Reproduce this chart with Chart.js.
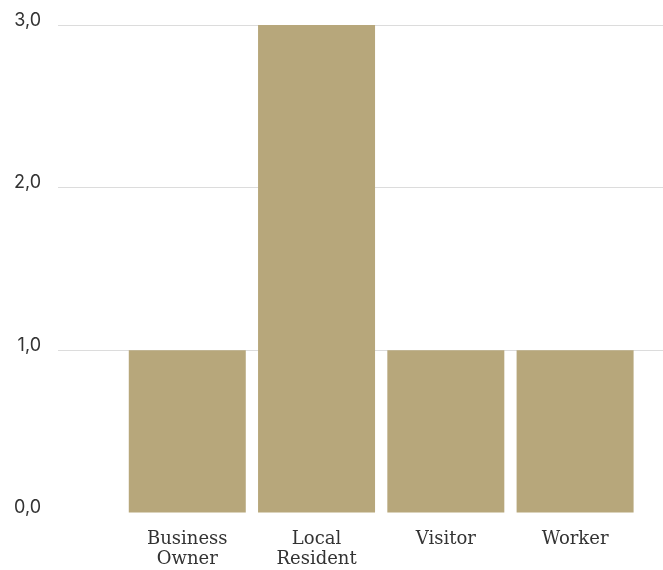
<!DOCTYPE html>
<html>
<head>
<meta charset="utf-8">
<script src="https://cdn.jsdelivr.net/npm/chart.js@4/dist/chart.umd.min.js"></script>
<style>
  html, body { margin: 0; padding: 0; background: #fff; }
  #wrap { width: 663px; height: 570px; position: relative; }
</style>
</head>
<body>
<div id="wrap"><canvas id="myBarChart"></canvas></div>
<script>
// data
var categories = [["Business", "Owner"], ["Local", "Resident"], ["Visitor"], ["Worker"]];
var values = [1, 3, 1, 1];
var yTicks = [0, 1, 2, 3];

var barColor = '#b7a77b';

var ctx = document.getElementById("myBarChart");
var myBarChart = new Chart(ctx, {
    type: 'bar',
    data: {
        datasets: [{
            label: 'count',
            data: values.map(function (v, i) { return { x: i, y: v }; }),
            backgroundColor: barColor,
            borderWidth: 0,
            barPercentage: 1,
            categoryPercentage: 0.905
        }]
    },
    options: {
        responsive: true,
        maintainAspectRatio: false,
        animation: false,
        layout: { padding: { top: 0, right: 0, left: 0, bottom: 0 } },
        plugins: {
            legend: { display: false },
            tooltip: { enabled: false }
        },
        scales: {
            x: {
                type: 'linear',
                offset: false,
                min: -1,
                max: 3.68,
                grid: { display: false },
                border: { display: false },
                afterBuildTicks: function (scale) {
                    scale.ticks = categories.map(function (c, i) { return { value: i }; });
                },
                afterFit: function (scale) { scale.height = 57; },
                ticks: {
                    autoSkip: false,
                    maxRotation: 0,
                    minRotation: 0,
                    padding: 8,
                    color: '#333',
                    font: { family: '"DejaVu Serif", serif', size: 18, lineHeight: 1.12 },
                    callback: function (value) { return categories[value]; }
                }
            },
            y: {
                min: 0,
                max: 3,
                afterBuildTicks: function (scale) {
                    scale.ticks = yTicks.map(function (v) { return { value: v }; });
                },
                afterFit: function (scale) { scale.width = 58; },
                grid: {
                    drawTicks: false,
                    color: function (c) { return c.tick && c.tick.value === 0 ? 'rgba(0,0,0,0)' : '#dcdcdc'; },
                    lineWidth: 1
                },
                border: { display: false },
                ticks: {
                    padding: 17,
                    labelOffset: -5,
                    color: '#333',
                    font: { family: 'Inter, sans-serif', size: 18, lineHeight: 0.9 },
                    callback: function (value) { return value.toFixed(1).replace('.', ','); }
                }
            }
        }
    }
});
</script>
</body>
</html>
